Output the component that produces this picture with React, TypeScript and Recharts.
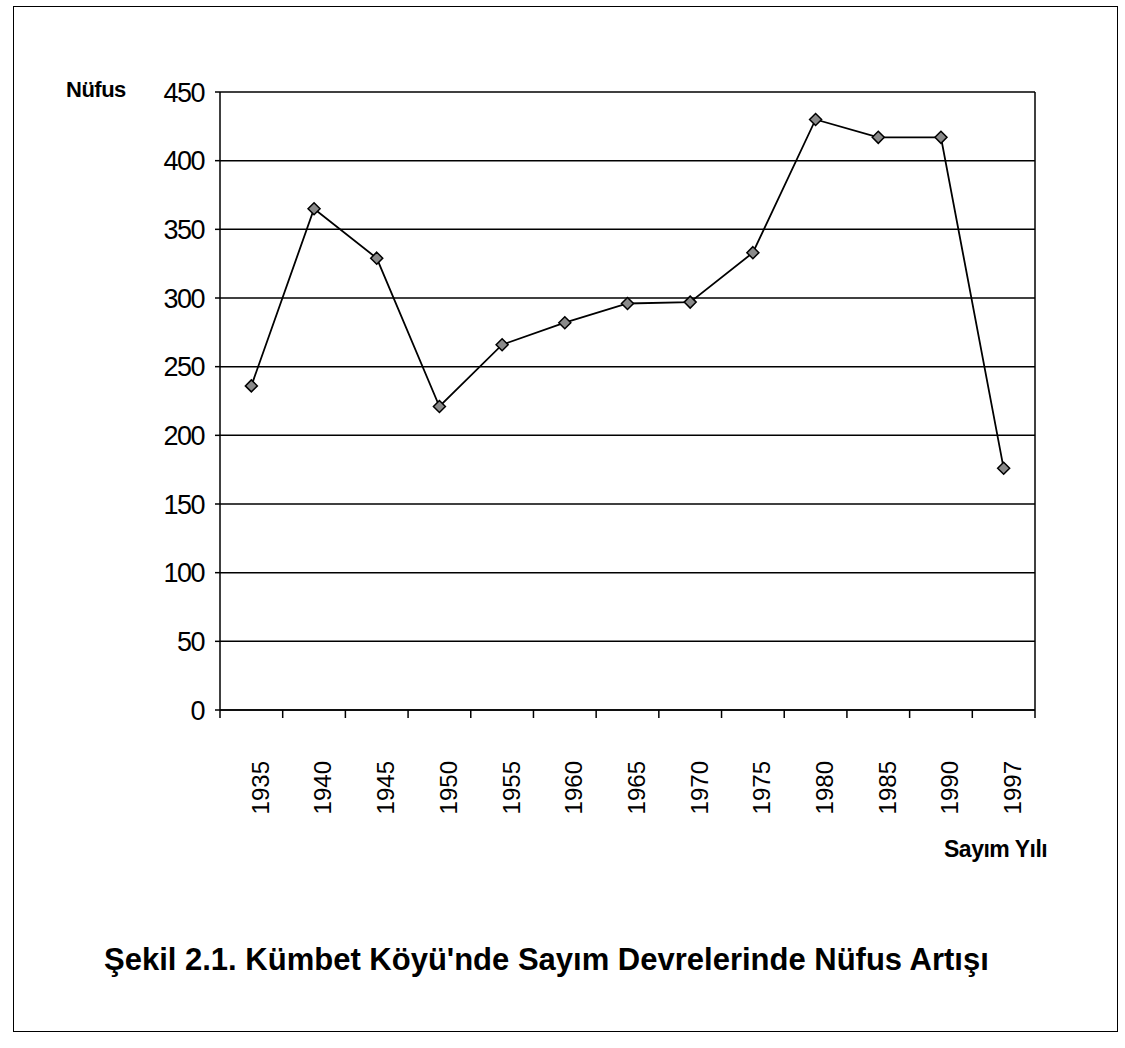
import { CartesianGrid, Line, LineChart, XAxis, YAxis } from "recharts";

const years = ["1935", "1940", "1945", "1950", "1955", "1960", "1965", "1970", "1975", "1980", "1985", "1990", "1997"];
const population = [236, 365, 329, 221, 266, 282, 296, 297, 333, 430, 417, 417, 176];
const yTicks = [0, 50, 100, 150, 200, 250, 300, 350, 400, 450];

const data = years.map((year, i) => ({ year, nufus: population[i] }));

const CHART_W = 1125;
const MARGIN = { top: 92, right: 90, left: 160, bottom: 0 };
const Y_AXIS_W = 60;
const PLOT_W = CHART_W - MARGIN.left - MARGIN.right - Y_AXIS_W;
// Excel-style category axis: points sit in the middle of each band
const BAND = PLOT_W / years.length;

const FONT = "'Liberation Sans', Arial, sans-serif";

function YearTick(props: any) {
  const { x, y, payload, index } = props;
  const lx = x + 9;
  const ly = y + 51;
  return (
    <g>
      <line x1={x - BAND / 2} x2={x - BAND / 2} y1={y} y2={y + 8} stroke="#000" strokeWidth={1.5} />
      {index === years.length - 1 && (
        <line x1={x + BAND / 2} x2={x + BAND / 2} y1={y} y2={y + 8} stroke="#000" strokeWidth={1.5} />
      )}
      <text
        x={lx}
        y={ly}
        transform={`rotate(-90 ${lx} ${ly})`}
        textAnchor="end"
        dy="0.35em"
        fontSize={24}
        fontFamily={FONT}
        fill="#000"
      >
        {payload.value}
      </text>
    </g>
  );
}

function ValueTick(props: any) {
  const { x, y, payload } = props;
  return (
    <text
      x={x}
      y={y}
      textAnchor="end"
      dy="0.36em"
      fontSize={27}
      letterSpacing={-1.5}
      fontFamily={FONT}
      fill="#000"
    >
      {payload.value}
    </text>
  );
}

function Diamond(props: any) {
  const { cx, cy } = props;
  if (cx == null || cy == null) return null;
  const r = 6;
  return (
    <path
      d={`M${cx},${cy - r} L${cx + r},${cy} L${cx},${cy + r} L${cx - r},${cy} Z`}
      fill="#8a8a8a"
      stroke="#000"
      strokeWidth={1.5}
    />
  );
}

// only the right-hand edge of the plot area gets a vertical line
const rightEdge = ({ offset }: any) => [offset.left + offset.width];

export default function App() {
  return (
    <div
      style={{
        position: "absolute",
        left: 0,
        top: 0,
        width: 1125,
        height: 1048,
        background: "#fff",
        fontFamily: FONT,
        color: "#000",
      }}
    >
      <div
        style={{
          position: "absolute",
          left: 13,
          top: 6,
          width: 1103,
          height: 1024,
          border: "1.5px solid #000",
        }}
      />
      <div style={{ position: "absolute", left: 0, top: 0 }}>
        <LineChart width={CHART_W} height={830} data={data} margin={MARGIN}>
          <CartesianGrid
            stroke="#000"
            strokeWidth={1.5}
            verticalCoordinatesGenerator={rightEdge}
          />
          <XAxis
            dataKey="year"
            interval={0}
            padding={{ left: BAND / 2, right: BAND / 2 }}
            tickSize={0}
            tickMargin={0}
            tickLine={false}
            axisLine={{ stroke: "#000", strokeWidth: 1.5 }}
            tick={<YearTick />}
            height={120}
          />
          <YAxis
            domain={[0, 450]}
            ticks={yTicks}
            width={Y_AXIS_W}
            tickSize={5}
            tickMargin={11}
            tickLine={{ stroke: "#000", strokeWidth: 1.5 }}
            axisLine={{ stroke: "#000", strokeWidth: 1.5 }}
            tick={<ValueTick />}
          />
          <Line
            type="linear"
            dataKey="nufus"
            stroke="#000"
            strokeWidth={1.8}
            dot={<Diamond />}
            activeDot={false}
            isAnimationActive={false}
          />
        </LineChart>
      </div>
      <div
        style={{
          position: "absolute",
          left: 66,
          top: 79,
          fontSize: 22,
          fontWeight: "bold",
          lineHeight: 1,
          letterSpacing: -0.5,
        }}
      >
        Nüfus
      </div>
      <div
        style={{
          position: "absolute",
          left: 944,
          top: 838,
          fontSize: 23,
          fontWeight: "bold",
          lineHeight: 1,
          letterSpacing: -0.5,
          whiteSpace: "nowrap",
        }}
      >
        Sayım Yılı
      </div>
      <div
        style={{
          position: "absolute",
          left: 104,
          top: 944,
          fontSize: 31,
          fontWeight: "bold",
          lineHeight: 1,
          whiteSpace: "nowrap",
        }}
      >
        Şekil 2.1. Kümbet Köyü'nde Sayım Devrelerinde Nüfus Artışı
      </div>
    </div>
  );
}
